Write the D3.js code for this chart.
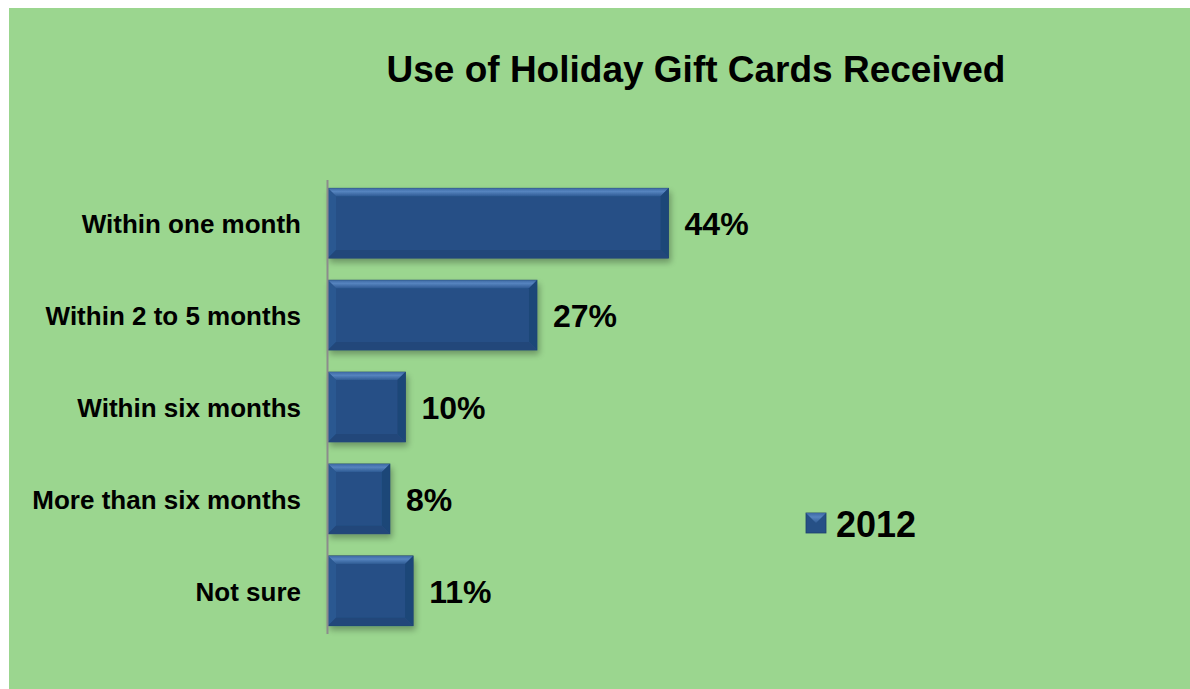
<!DOCTYPE html>
<html>
<head>
<meta charset="utf-8">
<script src="https://cdn.jsdelivr.net/npm/d3@7"></script>
<style>
  html, body { margin: 0; padding: 0; background: #ffffff; }
  svg { display: block; }
  text { font-family: "Liberation Sans", Arial, sans-serif; font-weight: bold; fill: #000; }
</style>
</head>
<body>
<svg id="chart" width="1190" height="689"></svg>
<script>
// Survey answers and their shares
const categories = ["Within one month", "Within 2 to 5 months", "Within six months", "More than six months", "Not sure"];
const values = [44, 27, 10, 8, 11];
const seriesName = "2012";
const chartTitle = "Use of Holiday Gift Cards Received";

const W = 1190, H = 689;
const svg = d3.select("#chart");

const barColor = "#265086";
const bg = "#9bd68f";

// Panel background
svg.append("rect").attr("x", 9).attr("y", 8).attr("width", W - 9).attr("height", H - 8).attr("fill", bg);

// Scales
const plot = { left: 328, top: 180, bottom: 634 };
const x = d3.scaleLinear().domain([0, 50]).range([plot.left, plot.left + 387]);
const y = d3.scaleBand().domain(categories).range([plot.top, plot.bottom]).paddingInner(0.24).paddingOuter(0.09);

const defs = svg.append("defs");
const sh = defs.append("filter").attr("id", "shadow").attr("x", "-10%").attr("y", "-20%").attr("width", "130%").attr("height", "150%");
sh.append("feGaussianBlur").attr("in", "SourceAlpha").attr("stdDeviation", 3).attr("result", "b");
sh.append("feOffset").attr("in", "b").attr("dx", 2).attr("dy", 4).attr("result", "o");
sh.append("feComponentTransfer").attr("in", "o").attr("result", "s")
  .append("feFuncA").attr("type", "linear").attr("slope", 0.3);
const m = sh.append("feMerge");
m.append("feMergeNode").attr("in", "s");
m.append("feMergeNode").attr("in", "SourceGraphic");

const gTop = defs.append("linearGradient").attr("id", "bevTop").attr("x1", 0).attr("y1", 0).attr("x2", 0).attr("y2", 1);
gTop.append("stop").attr("offset", 0).attr("stop-color", "#3d69a4");
gTop.append("stop").attr("offset", 0.4).attr("stop-color", "#5684bf");
gTop.append("stop").attr("offset", 1).attr("stop-color", "#2f5b94");

// Bars with a bevelled edge
const bev = 8;
const bars = svg.append("g").selectAll("g").data(categories).join("g").attr("filter", "url(#shadow)");
bars.each(function (c, i) {
  const g = d3.select(this);
  const x0 = x(0), x1 = x(values[i]);
  const y0 = y(c), y1 = y(c) + y.bandwidth();
  const b = Math.min(bev, (x1 - x0) / 2);
  g.append("rect").attr("x", x0).attr("y", y0).attr("width", x1 - x0).attr("height", y1 - y0).attr("fill", barColor)
    .attr("stroke", "#1d3f6c").attr("stroke-width", 0.8);
  // top bevel
  g.append("path").attr("d", `M${x0},${y0}L${x1},${y0}L${x1 - b},${y0 + b}L${x0 + b},${y0 + b}Z`).attr("fill", "url(#bevTop)");
  // left bevel
  g.append("path").attr("d", `M${x0},${y0}L${x0 + b},${y0 + b}L${x0 + b},${y1 - b}L${x0},${y1}Z`).attr("fill", "#2b5891");
  // right bevel
  g.append("path").attr("d", `M${x1},${y0}L${x1},${y1}L${x1 - b},${y1 - b}L${x1 - b},${y0 + b}Z`).attr("fill", "#1f4678");
  // bottom bevel
  g.append("path").attr("d", `M${x0},${y1}L${x1},${y1}L${x1 - b},${y1 - b}L${x0 + b},${y1 - b}Z`).attr("fill", "#20477a");
});

// Category axis line
svg.append("line").attr("x1", plot.left - 0.5).attr("x2", plot.left - 0.5).attr("y1", plot.top).attr("y2", plot.bottom)
  .attr("stroke", "#8c8c8c").attr("stroke-width", 2);

// Category labels
svg.append("g").selectAll("text").data(categories).join("text")
  .attr("x", 301).attr("y", c => y(c) + y.bandwidth() / 2 + 10)
  .attr("text-anchor", "end")
  .style("font-size", "26px").text(c => c);

// Value labels
svg.append("g").selectAll("text").data(categories).join("text")
  .attr("x", (c, i) => x(values[i]) + 16).attr("y", c => y(c) + y.bandwidth() / 2 + 12)
  .style("font-size", "32px").text((c, i) => values[i] + "%");

// Title
svg.append("text").attr("x", 696).attr("y", 82).attr("text-anchor", "middle")
  .style("font-size", "37px").text(chartTitle);

// Legend
const lg = svg.append("g").attr("transform", "translate(806,513)");
lg.append("rect").attr("width", 20).attr("height", 20).attr("fill", barColor).attr("stroke", "#1d3f6c").attr("stroke-width", 0.8);
lg.append("path").attr("d", "M0,0L20,0L10,10Z").attr("fill", "url(#bevTop)");
lg.append("text").attr("x", 30).attr("y", 24).style("font-size", "36px").text(seriesName);
</script>
</body>
</html>
